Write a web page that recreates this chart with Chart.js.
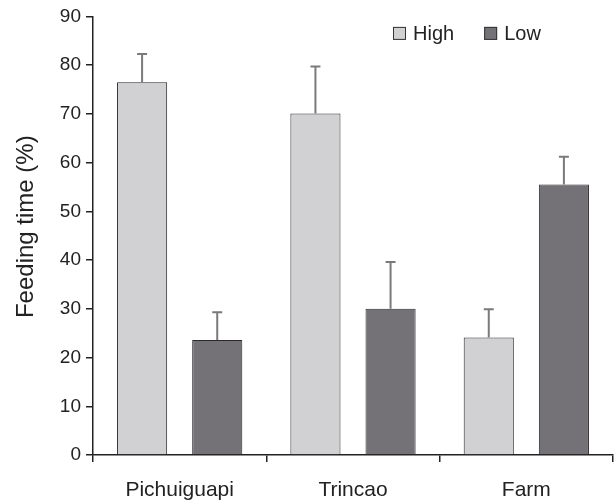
<!DOCTYPE html>
<html>
<head>
<meta charset="utf-8">
<script src="https://cdn.jsdelivr.net/npm/chart.js@4"></script>
<style>
  html, body { margin: 0; padding: 0; background: #fff; }
  #wrap { width: 614px; height: 503px; }
</style>
</head>
<body>
<div id="wrap"><canvas id="c" width="614" height="503"></canvas></div>
<script>
const categories = ['Pichuiguapi', 'Trincao', 'Farm'];
const seriesNames = ['High', 'Low'];
const highValues = [76.5, 70.1, 24.1];
const lowValues = [23.6, 30.0, 55.5];
const highErrorTop = [82.3, 79.7, 29.9];
const lowErrorTop = [29.3, 39.6, 61.2];
const yTickValues = [0, 10, 20, 30, 40, 50, 60, 70, 80, 90];
const yTitle = 'Feeding time (%)';

const FONT = "'Liberation Sans', Arial, Helvetica, sans-serif";
const INK = '#222222';
const HIGH_FILL = '#d1d1d3';
const LOW_FILL = '#747177';

const errorBars = {
  id: 'errorBars',
  afterDatasetsDraw(chart) {
    const ctx = chart.ctx;
    const y = chart.scales.y;
    chart.data.datasets.forEach((ds, i) => {
      const meta = chart.getDatasetMeta(i);
      meta.data.forEach((el, j) => {
        const top = y.getPixelForValue(ds.errorTop[j]);
        ctx.save();
        ctx.strokeStyle = '#7a7a7c';
        ctx.lineWidth = 2;
        ctx.beginPath();
        ctx.moveTo(el.x, el.y);
        ctx.lineTo(el.x, top);
        ctx.moveTo(el.x - 5, top);
        ctx.lineTo(el.x + 5, top);
        ctx.stroke();
        ctx.restore();
      });
    });
  }
};

const customLegend = {
  id: 'customLegend',
  afterDraw(chart) {
    const ctx = chart.ctx;
    const area = chart.chartArea;
    ctx.save();
    ctx.font = '20px ' + FONT;
    ctx.textBaseline = 'alphabetic';
    const box = 13;
    const baseY = area.top + 24;
    let x = area.right - 220;
    chart.data.datasets.forEach((ds) => {
      ctx.fillStyle = ds.backgroundColor;
      ctx.fillRect(x, baseY - 13.5, box, box);
      ctx.strokeStyle = '#333';
      ctx.lineWidth = 1;
      ctx.strokeRect(x + 0.5, baseY - 13, box - 1, box - 1);
      ctx.fillStyle = INK;
      ctx.fillText(ds.label, x + box + 7, baseY);
      x += box + 7 + ctx.measureText(ds.label).width + 30;
    });
    ctx.restore();
  }
};

const yAxisTitle = {
  id: 'yAxisTitle',
  afterDraw(chart) {
    const ctx = chart.ctx;
    const area = chart.chartArea;
    ctx.save();
    ctx.translate(26, (area.top + area.bottom) / 2 - 9);
    ctx.rotate(-Math.PI / 2);
    ctx.font = '24px ' + FONT;
    ctx.fillStyle = INK;
    ctx.textAlign = 'center';
    ctx.textBaseline = 'middle';
    ctx.fillText(yTitle, 0, 0);
    ctx.restore();
  }
};

new Chart(document.getElementById('c'), {
  type: 'bar',
  data: {
    labels: categories,
    datasets: [
      { label: seriesNames[0], data: highValues, errorTop: highErrorTop,
        backgroundColor: HIGH_FILL, borderColor: '#2a2a2a', borderWidth: 1,
        categoryPercentage: 0.867, barPercentage: 0.667 },
      { label: seriesNames[1], data: lowValues, errorTop: lowErrorTop,
        backgroundColor: LOW_FILL, borderColor: '#2a2a2a', borderWidth: 1,
        categoryPercentage: 0.867, barPercentage: 0.667 }
    ]
  },
  options: {
    responsive: false,
    animation: false,
    devicePixelRatio: 1,
    layout: { padding: { top: 15, right: 1, left: 0, bottom: 0 } },
    plugins: { legend: { display: false }, tooltip: { enabled: false } },
    scales: {
      x: {
        offset: true,
        grid: { display: true, drawOnChartArea: false, drawTicks: true, tickLength: 7,
                color: INK, lineWidth: 1.5, offset: true },
        border: { color: INK, width: 1.5 },
        ticks: { font: { family: FONT, size: 21 }, color: INK, padding: 16 },
        afterFit(s) { s.height = 48; }
      },
      y: {
        min: 0, max: 90,
        afterBuildTicks(s) { s.ticks = yTickValues.map(v => ({ value: v })); },
        grid: { display: true, drawOnChartArea: false, drawTicks: true, tickLength: 7,
                color: INK, lineWidth: 1.5 },
        border: { color: INK, width: 1.5 },
        ticks: { font: { family: FONT, size: 19 }, color: INK, padding: 5 },
        title: { display: false },
        afterFit(s) { s.width = 93; }
      }
    }
  },
  plugins: [errorBars, customLegend, yAxisTitle]
});
</script>
</body>
</html>
